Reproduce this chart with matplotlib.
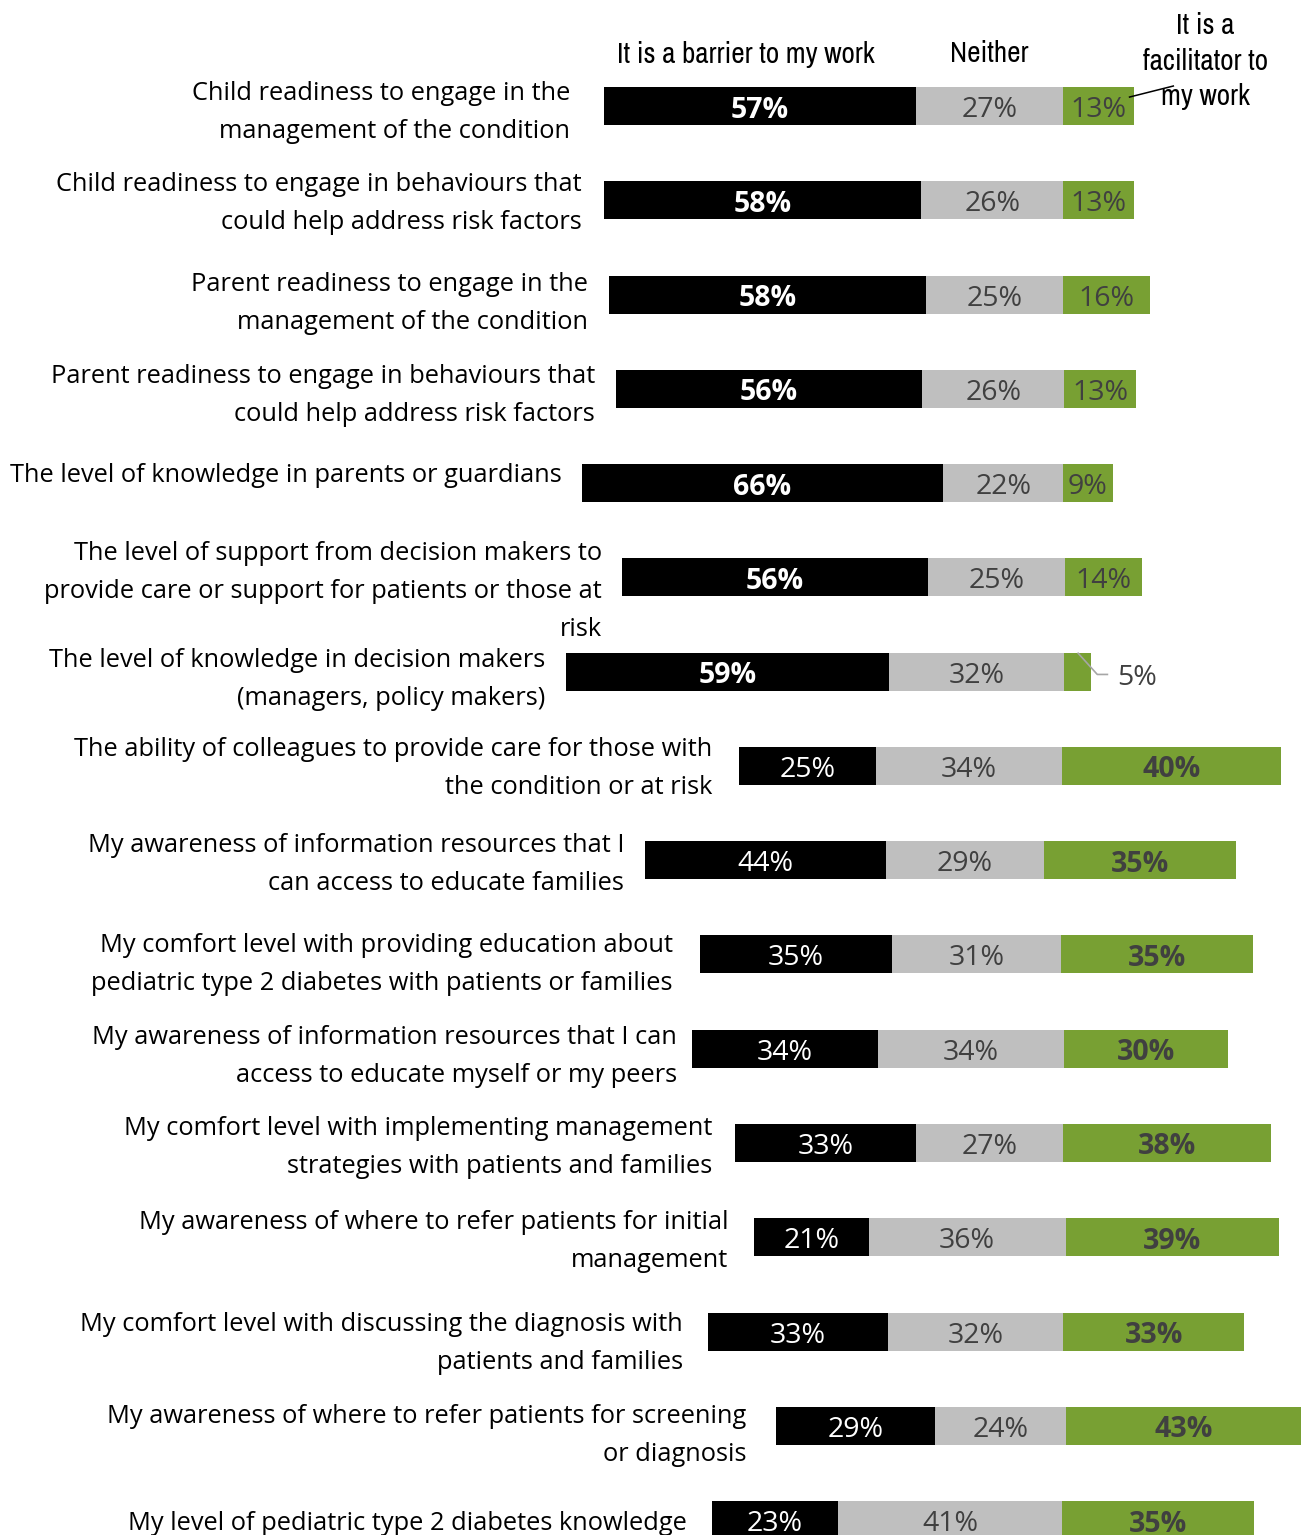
import matplotlib
matplotlib.use("Agg")
import matplotlib.pyplot as plt
from matplotlib import font_manager as fm

# ---- data -------------------------------------------------------------
categories = [
    ["Child readiness to engage in the", "management of the condition"],
    ["Child readiness to engage in behaviours that", "could help address risk factors"],
    ["Parent readiness to engage in the", "management of the condition"],
    ["Parent readiness to engage in behaviours that", "could help address risk factors"],
    ["The level of knowledge in parents or guardians"],
    ["The level of support from decision makers to",
     "provide care or support for patients or those at", "risk"],
    ["The level of knowledge in decision makers", "(managers, policy makers)"],
    ["The ability of colleagues to provide care for those with", "the condition or at risk"],
    ["My awareness of information resources that I", "can access to educate families"],
    ["My comfort level with providing education about",
     "pediatric type 2 diabetes with patients or families"],
    ["My awareness of information resources that I can",
     "access to educate myself or my peers"],
    ["My comfort level with implementing management",
     "strategies with patients and families"],
    ["My awareness of where to refer patients for initial", "management"],
    ["My comfort level with discussing the diagnosis with", "patients and families"],
    ["My awareness of where to refer patients for screening", "or diagnosis"],
    ["My level of pediatric type 2 diabetes knowledge"],
]
barrier = [57, 58, 58, 56, 66, 56, 59, 25, 44, 35, 34, 33, 21, 33, 29, 23]
neither = [27, 26, 25, 26, 22, 25, 32, 34, 29, 31, 34, 27, 36, 32, 24, 41]
facilitator = [13, 13, 16, 13, 9, 14, 5, 40, 35, 35, 30, 38, 39, 33, 43, 35]
series_names = ["It is a barrier to my work", "Neither",
                "It is a\nfacilitator to\nmy work"]

# ---- layout (x in percent units, y in row units) ----------------------
W_PX, H_PX = 1307, 1535
PX_PER_PCT = 5.47
ROW_PX = 94.27
TOP_PX = 106.0
bar_start = [110.4, 110.4, 111.3, 112.6, 106.4, 113.7, 103.5, 135.1,
             117.9, 128.0, 126.5, 134.4, 137.8, 129.4, 141.9, 130.2]
label_right = [104.2, 106.4, 107.5, 108.8, 102.7, 110.1, 99.6, 130.2,
               114.1, 123.0, 123.8, 130.2, 133.1, 124.9, 136.4, 125.6]
label_shift_px = [3, 0, 6, 4, -11, 11, 5, 0, 1, 7, 5, 2, 1, 9, 7, 0]
bold_barrier = [True] * 7 + [False] * 9
bold_facil = [False] * 7 + [True] * 9
small_outside = [False] * 6 + [True] + [False] * 9

BLACK = "#000000"
GREY = "#BFBFBF"
GREEN = "#78A033"
DARK = "#404040"

avail = {f.name for f in fm.fontManager.ttflist}


def pick(*names):
    return next((n for n in names if n in avail), "DejaVu Sans")


LABEL_FONT = pick("Open Sans", "Noto Sans", "Lato")
HEAD_FONT = pick("Liberation Sans Narrow", "Arial Narrow", "Archivo Narrow",
                 "Roboto Condensed", "PT Sans Narrow", "Sofia Sans Condensed")

LABEL_SIZE = 18.3
VALUE_SIZE = 20.5
HEAD_SIZE = 21
BAR_H = 38 / ROW_PX
LINE_GAP = 38 / ROW_PX
LABEL_DY = 3 / ROW_PX      # category text sits a little below centre
VALUE_DY = 4 / ROW_PX      # value text sits a little below centre

fig = plt.figure(figsize=(W_PX / 100, H_PX / 100), dpi=100)
ax = fig.add_axes([0, 0, 1, 1])
ax.set_xlim(0, W_PX / PX_PER_PCT)
ax.set_ylim((H_PX - TOP_PX) / ROW_PX, -TOP_PX / ROW_PX)
ax.axis("off")

rows = list(range(len(categories)))
left_n = [s + b for s, b in zip(bar_start, barrier)]
left_f = [l + n for l, n in zip(left_n, neither)]
ax.barh(rows, barrier, left=bar_start, height=BAR_H, color=BLACK, linewidth=0)
ax.barh(rows, neither, left=left_n, height=BAR_H, color=GREY, linewidth=0)
ax.barh(rows, facilitator, left=left_f, height=BAR_H, color=GREEN, linewidth=0)


def draw_lines(x, yc, lines, gap, **kw):
    n = len(lines)
    for k, line in enumerate(lines):
        ax.text(x, yc + (k - (n - 1) / 2) * gap, line, **kw)


for i in rows:
    # category label
    draw_lines(label_right[i], i + label_shift_px[i] / ROW_PX + LABEL_DY,
               categories[i], LINE_GAP, ha="right", va="center",
               fontsize=LABEL_SIZE, family=LABEL_FONT, color="black")
    yv = i + VALUE_DY
    # value labels
    ax.text(bar_start[i] + barrier[i] / 2, yv, f"{barrier[i]}%", ha="center",
            va="center", color="white", fontsize=VALUE_SIZE, family=LABEL_FONT,
            fontweight="bold" if bold_barrier[i] else "normal")
    ax.text(left_n[i] + neither[i] / 2, yv, f"{neither[i]}%", ha="center",
            va="center", color=DARK, fontsize=VALUE_SIZE, family=LABEL_FONT)
    end = left_f[i] + facilitator[i]
    if small_outside[i]:
        gx = left_f[i] + facilitator[i] / 2
        ax.plot([gx, end + 1.1, end + 3.1],
                [i - BAR_H / 2, i + 0.03, i + 0.03],
                color="#A6A6A6", lw=1.2, solid_capstyle="butt")
        ax.text(end + 4.8, yv + 0.03, f"{facilitator[i]}%", ha="left",
                va="center", color=DARK, fontsize=VALUE_SIZE, family=LABEL_FONT)
    else:
        ax.text(left_f[i] + facilitator[i] / 2, yv, f"{facilitator[i]}%",
                ha="center", va="center", color=DARK, fontsize=VALUE_SIZE,
                family=LABEL_FONT,
                fontweight="bold" if bold_facil[i] else "normal")

# series headers above the first row
HEAD_Y = (54 - TOP_PX) / ROW_PX
ax.text(left_n[0] - 31.0, HEAD_Y, series_names[0], ha="center", va="center",
        fontsize=HEAD_SIZE, family=HEAD_FONT, color="black")
ax.text(left_n[0] + 13.5, HEAD_Y, series_names[1], ha="center", va="center",
        fontsize=HEAD_SIZE, family=HEAD_FONT, color="black")
f_end = left_f[0] + facilitator[0]
draw_lines(f_end + 13.0, (61 - TOP_PX) / ROW_PX, series_names[2].split("\n"),
           36 / ROW_PX, ha="center", va="center", fontsize=HEAD_SIZE,
           family=HEAD_FONT, color="black")
ax.plot([f_end - 0.9, f_end + 7.1], [-0.095, -0.212], color="black", lw=1.1)

fig.savefig("out.png", dpi=100, facecolor="white")
